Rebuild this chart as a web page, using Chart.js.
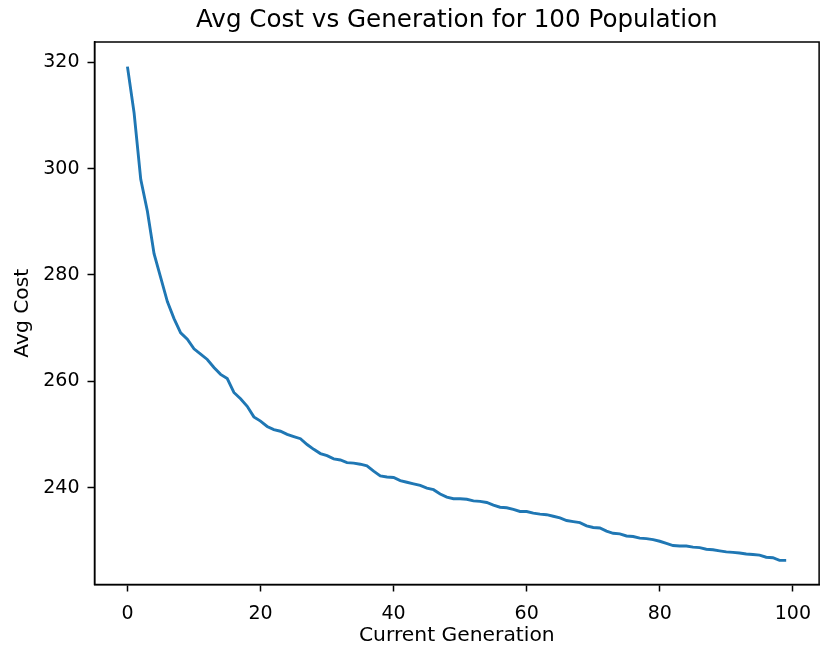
<!DOCTYPE html>
<html>
<head>
<meta charset="utf-8">
<script src="https://cdn.jsdelivr.net/npm/chart.js@4.4.0/dist/chart.umd.min.js"></script>
<style>
  html, body { margin: 0; padding: 0; background: #fff; }
  #wrap { width: 822px; height: 648px; }
</style>
</head>
<body>
<div id="wrap"><canvas id="chart" width="822" height="648"></canvas></div>
<script>
// data
var generations = [0,1,2,3,4,5,6,7,8,9,10,11,12,13,14,15,16,17,18,19,
  20,21,22,23,24,25,26,27,28,29,30,31,32,33,34,35,36,37,38,39,
  40,41,42,43,44,45,46,47,48,49,50,51,52,53,54,55,56,57,58,59,
  60,61,62,63,64,65,66,67,68,69,70,71,72,73,74,75,76,77,78,79,
  80,81,82,83,84,85,86,87,88,89,90,91,92,93,94,95,96,97,98,99];
var avgCost = [319.2,310.5,298.0,292.0,284.0,279.5,275.0,271.8,269.1,267.9,
  266.1,265.1,264.1,262.6,261.3,260.5,257.9,256.7,255.3,253.3,
  252.5,251.5,250.9,250.6,250.0,249.6,249.2,248.1,247.2,246.4,
  246.0,245.4,245.2,244.7,244.6,244.4,244.1,243.1,242.2,242.0,
  241.9,241.3,241.0,240.7,240.4,239.9,239.6,238.8,238.2,237.9,
  237.9,237.8,237.5,237.4,237.2,236.7,236.3,236.2,235.9,235.5,
  235.5,235.2,235.0,234.9,234.6,234.3,233.8,233.6,233.4,232.8,
  232.5,232.4,231.8,231.4,231.3,230.9,230.8,230.5,230.4,230.2,
  229.9,229.5,229.1,229.0,229.0,228.8,228.7,228.4,228.3,228.1,
  227.9,227.8,227.7,227.5,227.4,227.3,226.9,226.8,226.3,226.3];
var xTicks = [0, 20, 40, 60, 80, 100];
var yTicks = [240, 260, 280, 300, 320];
var chartTitle = 'Avg Cost vs Generation for 100 Population';

var fontFam = "'DejaVu Sans', sans-serif";

// matplotlib style box around the plot + title centred over the axes
var boxPlugin = {
  id: 'box',
  afterDraw: function(chart) {
    var a = chart.chartArea;
    var ctx = chart.ctx;
    ctx.save();
    ctx.strokeStyle = '#000';
    ctx.lineWidth = 1.5;
    ctx.strokeRect(a.left, a.top, a.right - a.left, a.bottom - a.top);
    ctx.fillStyle = '#000';
    ctx.font = '24.6px ' + fontFam;
    ctx.textAlign = 'center';
    ctx.textBaseline = 'middle';
    ctx.fillText(chartTitle, (a.left + a.right) / 2, 21);
    ctx.restore();
  }
};

new Chart(document.getElementById('chart').getContext('2d'), {
  type: 'line',
  data: {
    labels: generations,
    datasets: [{
      data: avgCost,
      borderColor: '#1f77b4',
      borderWidth: 2.9,
      pointRadius: 0,
      tension: 0,
      fill: false
    }]
  },
  options: {
    responsive: false,
    animation: false,
    layout: { padding: { left: 0, right: 1, top: 42, bottom: 0 } },
    plugins: {
      legend: { display: false },
      tooltip: { enabled: false },
      title: { display: false }
    },
    scales: {
      x: {
        type: 'linear',
        min: -4.95,
        max: 103.95,
        afterBuildTicks: function(scale) {
          scale.ticks = xTicks.map(function(v) { return { value: v }; });
        },
        afterFit: function(scale) { scale.height = 63.5; },
        grid: { drawOnChartArea: false, drawTicks: true, tickLength: 7, tickColor: '#000', tickWidth: 1.5 },
        border: { display: true, color: '#000', width: 1.5 },
        ticks: { color: '#000', font: { family: fontFam, size: 19 }, padding: 11, maxRotation: 0 },
        title: {
          display: true,
          text: 'Current Generation',
          color: '#000',
          font: { family: fontFam, size: 20.3 },
          padding: { top: 0, bottom: 0 }
        }
      },
      y: {
        type: 'linear',
        min: 221.765,
        max: 323.835,
        afterBuildTicks: function(scale) {
          scale.ticks = yTicks.map(function(v) { return { value: v }; });
        },
        afterFit: function(scale) { scale.width = 94.5; },
        grid: { drawOnChartArea: false, drawTicks: true, tickLength: 7, tickColor: '#000', tickWidth: 1.5 },
        border: { display: true, color: '#000', width: 1.5 },
        ticks: { color: '#000', font: { family: fontFam, size: 19 }, padding: 8 },
        title: {
          display: true,
          text: 'Avg Cost',
          color: '#000',
          font: { family: fontFam, size: 20.3 },
          padding: { top: 11, bottom: 0 }
        }
      }
    }
  },
  plugins: [boxPlugin]
});
</script>
</body>
</html>
